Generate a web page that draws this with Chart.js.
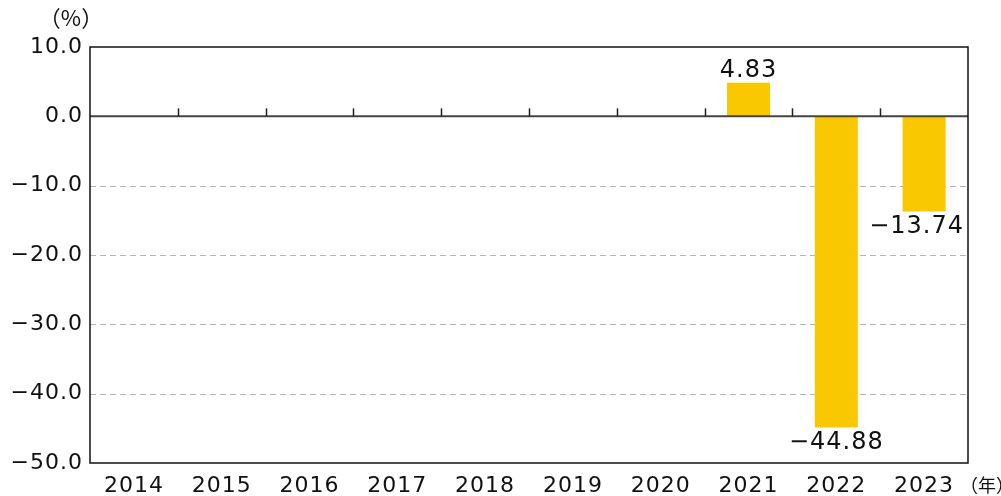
<!DOCTYPE html>
<html>
<head>
<meta charset="utf-8">
<script src="https://cdn.jsdelivr.net/npm/chart.js@4.4.0/dist/chart.umd.min.js"></script>
<style>
  html, body { margin: 0; padding: 0; background: #fff; }
  #wrap { width: 1001px; height: 496px; position: relative; }
</style>
</head>
<body>
<div id="wrap"><canvas id="chart"></canvas></div>
<script>
// 年ごとの変化率（%）
const years = ["2014", "2015", "2016", "2017", "2018", "2019", "2020", "2021", "2022", "2023"];
const rates = [null, null, null, null, null, null, null, 4.83, -44.88, -13.74];
const rateLabels = [null, null, null, null, null, null, null, "4.83", "−44.88", "−13.74"];
const yTicks = [10, 0, -10, -20, -30, -40, -50];

const FONT = '"DejaVu Sans", "Noto Sans CJK JP", sans-serif';
const JP_FONT = '"Noto Sans CJK JP", sans-serif';
const BAR_COLOR = "#fac800";

function fmtTick(v) {
  const s = Math.abs(v).toFixed(1);
  return v < 0 ? "−" + s : s;
}

// 文字間を少し広げる
const spacingPlugin = {
  id: "spacing",
  beforeInit(chart) { chart.ctx.letterSpacing = "1px"; },
  beforeLayout(chart) { chart.ctx.letterSpacing = "1px"; },
  beforeDraw(chart) { chart.ctx.letterSpacing = "1px"; }
};

// 枠・補助線・ゼロ線・区切り目盛・数値ラベル
const decorPlugin = {
  id: "decor",
  beforeDatasetsDraw(chart) {
    const { ctx, chartArea: a, scales: { y } } = chart;
    ctx.save();
    ctx.strokeStyle = "#b4b4b4";
    ctx.lineWidth = 1;
    ctx.setLineDash([6, 4]);
    yTicks.forEach((v) => {
      if (v === 0 || v === 10 || v === -50) return;
      const py = Math.round(y.getPixelForValue(v)) + 0.5;
      ctx.beginPath();
      ctx.moveTo(a.left, py);
      ctx.lineTo(a.right, py);
      ctx.stroke();
    });
    ctx.restore();
  },
  afterDatasetsDraw(chart) {
    const { ctx, chartArea: a, scales: { x, y } } = chart;
    ctx.save();
    // ゼロ線
    const zy = y.getPixelForValue(0);
    ctx.strokeStyle = "#444";
    ctx.lineWidth = 2;
    ctx.beginPath();
    ctx.moveTo(a.left, zy);
    ctx.lineTo(a.right, zy);
    ctx.stroke();
    // 年の区切り目盛
    ctx.lineWidth = 1.5;
    ctx.strokeStyle = "#222";
    for (let i = 1; i < years.length; i++) {
      const bx = Math.round((x.getPixelForValue(i - 1) + x.getPixelForValue(i)) / 2) + 0.5;
      ctx.beginPath();
      ctx.moveTo(bx, zy - 8);
      ctx.lineTo(bx, zy);
      ctx.stroke();
    }
    // 外枠
    ctx.strokeStyle = "#111";
    ctx.lineWidth = 1.5;
    ctx.strokeRect(a.left, a.top, a.right - a.left, a.bottom - a.top);

    // 数値ラベル
    ctx.fillStyle = "#111";
    ctx.font = "24px " + FONT;
    ctx.letterSpacing = "1px";
    ctx.textAlign = "center";
    const meta = chart.getDatasetMeta(0);
    rates.forEach((v, i) => {
      if (v === null) return;
      const bar = meta.data[i];
      const txt = rateLabels[i];
      const w = ctx.measureText(txt).width;
      let cx = bar.x;
      if (cx + w / 2 > a.right - 4) cx = a.right - 4 - w / 2;
      if (v >= 0) {
        ctx.textBaseline = "bottom";
        ctx.fillText(txt, cx, bar.y);
      } else {
        ctx.textBaseline = "top";
        ctx.fillText(txt, cx, bar.y + 3);
      }
    });

    // 単位
    ctx.letterSpacing = "0px";
    ctx.font = "22px " + JP_FONT;
    ctx.textBaseline = "middle";
    ctx.textAlign = "center";
    ctx.fillText("（%）", 71, 18);
    ctx.font = "18px " + JP_FONT;
    ctx.textAlign = "left";
    ctx.fillText("（年）", a.right - 8, 485);
    ctx.restore();
  }
};

new Chart(document.getElementById("chart"), {
  type: "bar",
  data: {
    labels: years,
    datasets: [{
      data: rates,
      backgroundColor: BAR_COLOR,
      borderWidth: 0,
      categoryPercentage: 1,
      barPercentage: 0.49
    }]
  },
  options: {
    responsive: true,
    maintainAspectRatio: false,
    animation: false,
    layout: { padding: { top: 47, right: 33, left: 0, bottom: 0 } },
    plugins: { legend: { display: false }, tooltip: { enabled: false } },
    scales: {
      x: {
        grid: { display: false, drawTicks: false },
        border: { display: false },
        ticks: { color: "#111", font: { family: FONT, size: 22 }, padding: 10 },
        afterFit(s) { s.height = 33; }
      },
      y: {
        min: -50,
        max: 10,
        afterBuildTicks(s) { s.ticks = yTicks.map((v) => ({ value: v })); },
        grid: { display: false, drawTicks: false },
        border: { display: false },
        ticks: {
          color: "#111",
          font: { family: FONT, size: 22 },
          padding: 7,
          callback: (v) => fmtTick(v)
        },
        afterFit(s) { s.width = 90; }
      }
    }
  },
  plugins: [spacingPlugin, decorPlugin]
});
</script>
</body>
</html>
